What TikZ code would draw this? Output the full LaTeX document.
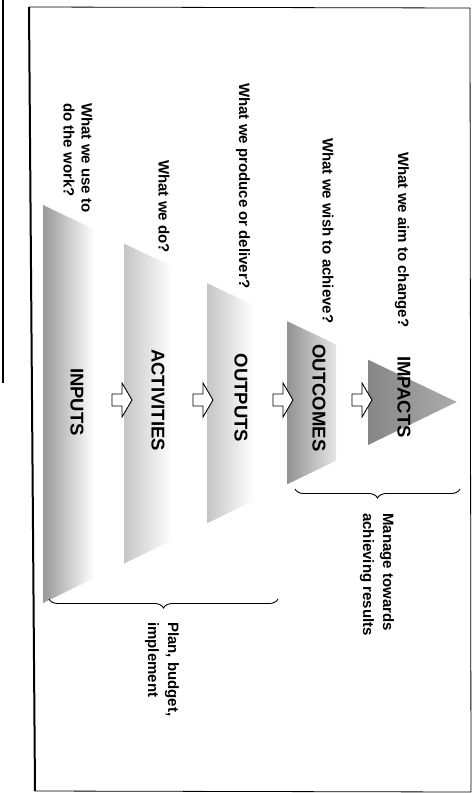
\documentclass[tikz,border=0pt]{standalone}
\usepackage{fontspec}
\setmainfont{Liberation Sans}
\usetikzlibrary{decorations.pathreplacing}

\begin{document}
\begin{tikzpicture}[
    x=1pt, y=-1pt,
    font=\fontsize{15}{18}\selectfont\bfseries,
    declare function={ytop(\t)=205+0.476*(\t-43); ybot(\t)=603-0.486*(\t-43);},
    question/.style={rotate=-90, anchor=west, inner sep=0pt, align=left},
    level/.style={rotate=-90, inner sep=0pt, font=\fontsize{18.5}{20}\selectfont\bfseries},
    note/.style={rotate=-90, anchor=west, inner sep=0pt, align=left,
                 font=\fontsize{15}{20}\selectfont\bfseries},
    blockarrow/.style={draw=black, fill=white, line width=0.9pt, line join=miter},
    brace/.style={decorate, decoration={brace, mirror, amplitude=9pt},
                  line width=0.9pt}
  ]
  \useasboundingbox (0,0) rectangle (473,793);

  % Page frame (scanned, slightly skewed).
  \draw[line width=0.8pt] (29,7) -- (470,8) -- (471,792) -- (35,791);
  \draw[line width=2pt] (35,791) -- (29,7);
  \draw[line width=1.5pt] (3,0) -- (3,383);

  % Pyramid slices, base on the left, apex on the right.
  \foreach \lx/\rx/\dark/\light in {43/94/gray!80/white,
                                     124/172/gray!45/white,
                                     207/254/gray!45/white,
                                     287/336/gray!85/gray!20,
                                     368/457/gray!95/gray!65}
    \shade[left color=\dark, right color=\light]
      (\lx,{ytop(\lx)}) -- (\rx,{ytop(\rx)}) -- (\rx,{ybot(\rx)})
      -- (\lx,{ybot(\lx)}) -- cycle;

  % Block arrows between the slices.
  \foreach \tx in {132,213,293,372}
    \draw[blockarrow] (\tx-20,394) -- (\tx-10,394) -- (\tx-10,383)
      -- (\tx,400) -- (\tx-10,417) -- (\tx-10,406) -- (\tx-20,406) -- cycle;

  % Level names.
  \node[level] (inputs)     at (77,402)  {INPUTS};
  \node[level] (activities) at (158,400) {ACTIVITIES};
  \node[level] (outputs)    at (241,398) {OUTPUTS};
  \node[level] (outcomes)   at (319,398) {OUTCOMES};
  \node[level] (impacts)    at (404,397) {IMPACTS};

  % Questions.
  \node[question] (qin)  at (78,103)  {What we use to\\do the work?};
  \node[question] (qact) at (164,160) {What we do?};
  \node[question] (qout) at (243,83)  {What we produce or deliver?};
  \node[question] (qoc)  at (328,138) {What we wish to achieve?};
  \node[question] (qimp) at (402,152) {What we aim to change?};

  % Braces and their notes.
  \coordinate (mfrom) at (295,489);
  \coordinate (mto)   at (460,489);
  \coordinate (pfrom) at (49,599);
  \coordinate (pto)   at (278,599);
  \draw[brace] (mfrom) -- (mto);
  \draw[brace] (pfrom) -- (pto);
  \node[note] (manage) at (377,513) {Manage towards\\achieving results};
  \node[note] (plan)   at (162,622) {Plan, budget,\\implement};

\end{tikzpicture}
\end{document}
